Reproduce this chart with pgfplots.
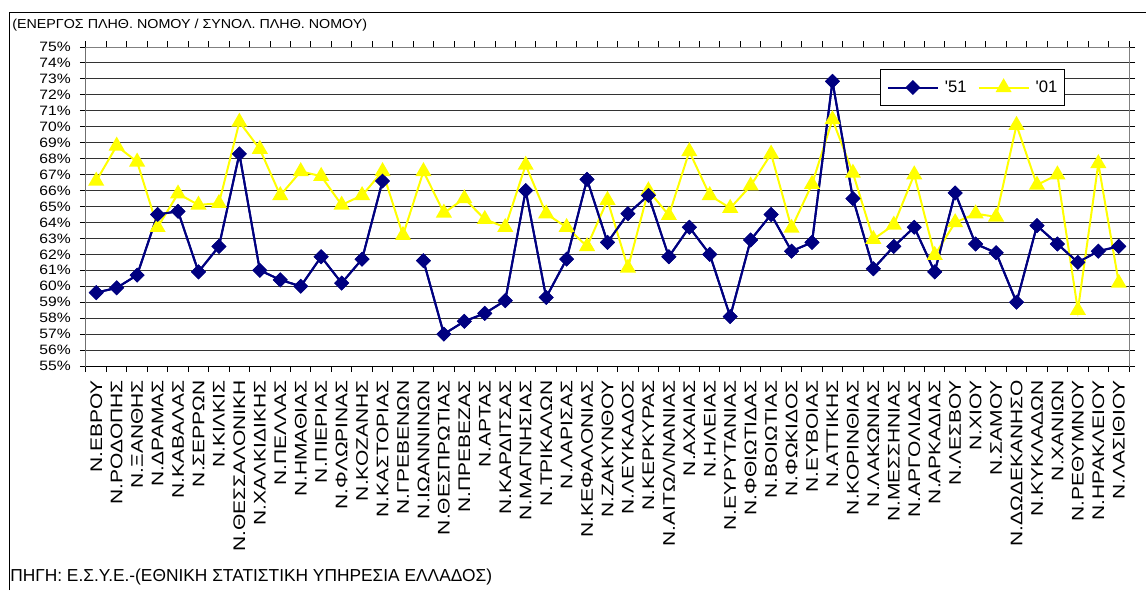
\documentclass[border=0pt]{standalone}
\usepackage{fontspec}
\setmainfont{Liberation Sans}
\newfontfamily\xlab[FakeStretch=1.25]{Liberation Sans}
\newfontfamily\ylab[FakeStretch=1.15]{Liberation Sans}
\newfontfamily\ttl[FakeStretch=1.1]{Liberation Sans}
\usepackage{pgfplots}
\usepackage{pgfplotstable}
\pgfplotsset{compat=1.18}
\definecolor{navy51}{RGB}{0,0,128}
\definecolor{yel01}{RGB}{255,255,0}

\pgfplotstableread{
idx a b
0 59.6 66.6
1 59.9 68.8
2 60.7 67.8
3 64.5 63.7
4 64.7 65.8
5 60.9 65.1
6 62.5 65.2
7 68.3 70.3
8 61.0 68.6
9 60.4 65.7
10 60.0 67.2
11 61.85 66.9
12 60.2 65.1
13 61.7 65.7
14 66.6 67.2
15 nan 63.2
16 61.6 67.2
17 57.0 64.6
18 57.8 65.5
19 58.3 64.2
20 59.1 63.7
21 66.0 67.6
22 59.3 64.55
23 61.7 63.7
24 66.7 62.5
25 62.75 65.4
26 64.55 61.15
27 65.7 66.0
28 61.85 64.45
29 63.7 68.45
30 62.0 65.7
31 58.1 64.9
32 62.9 66.3
33 64.5 68.3
34 62.2 63.65
35 62.75 66.4
36 72.85 70.45
37 65.5 67.1
38 61.1 62.95
39 62.5 63.85
40 63.7 67.0
41 60.9 61.95
42 65.85 64.0
43 62.65 64.55
44 62.1 64.35
45 59.0 70.1
46 63.8 66.35
47 62.65 67.0
48 61.5 58.5
49 62.2 67.7
50 62.5 60.2
}\data

\begin{document}
\begin{tikzpicture}
\useasboundingbox (0,0) rectangle (859.5pt,-442.5pt);
\draw[line width=0.75pt] (6.75pt,-442.5pt) -- (6.75pt,-9pt) -- (859.5pt,-9pt);
\node[anchor=west, inner sep=0pt, font=\ttl\fontsize{9.75pt}{11pt}\selectfont] at (9pt,-18.75pt) {(ΕΝΕΡΓΟΣ ΠΛΗΘ. ΝΟΜΟΥ / ΣΥΝΟΛ. ΠΛΗΘ. ΝΟΜΟΥ)};
\node[anchor=west, inner sep=0pt, font=\fontsize{13pt}{15pt}\selectfont] at (7.5pt,-432.75pt) {ΠΗΓΗ: Ε.Σ.Υ.Ε.-(ΕΘΝΙΚΗ ΣΤΑΤΙΣΤΙΚΗ ΥΠΗΡΕΣΙΑ ΕΛΛΑΔΟΣ)};
\begin{axis}[
  at={(64.5pt,-274.5pt)}, anchor=south west,
  scale only axis, width=782.25pt, height=239.25pt,
  xmin=-0.5, xmax=50.5, ymin=55, ymax=75,
  axis line style={draw=gray, line width=0.75pt},
  xtick={0,...,50},
  xticklabels={Ν.ΕΒΡΟΥ, Ν.ΡΟΔΟΠΗΣ, Ν.ΞΑΝΘΗΣ, Ν.ΔΡΑΜΑΣ, Ν.ΚΑΒΑΛΑΣ, Ν.ΣΕΡΡΩΝ, Ν.ΚΙΛΚΙΣ, Ν.ΘΕΣΣΑΛΟΝΙΚΗ, Ν.ΧΑΛΚΙΔΙΚΗΣ, Ν.ΠΕΛΛΑΣ, Ν.ΗΜΑΘΙΑΣ, Ν.ΠΙΕΡΙΑΣ, Ν.ΦΛΩΡΙΝΑΣ, Ν.ΚΟΖΑΝΗΣ, Ν.ΚΑΣΤΟΡΙΑΣ, Ν.ΓΡΕΒΕΝΩΝ, Ν.ΙΩΑΝΝΙΝΩΝ, Ν.ΘΕΣΠΡΩΤΙΑΣ, Ν.ΠΡΕΒΕΖΑΣ, Ν.ΑΡΤΑΣ, Ν.ΚΑΡΔΙΤΣΑΣ, Ν.ΜΑΓΝΗΣΙΑΣ, Ν.ΤΡΙΚΑΛΩΝ, Ν.ΛΑΡΙΣΑΣ, Ν.ΚΕΦΑΛΟΝΙΑΣ, Ν.ΖΑΚΥΝΘΟΥ, Ν.ΛΕΥΚΑΔΟΣ, Ν.ΚΕΡΚΥΡΑΣ, Ν.ΑΙΤΩΛ/ΝΑΝΙΑΣ, Ν.ΑΧΑΙΑΣ, Ν.ΗΛΕΙΑΣ, Ν.ΕΥΡΥΤΑΝΙΑΣ, Ν.ΦΘΙΩΤΙΔΑΣ, Ν.ΒΟΙΩΤΙΑΣ, Ν.ΦΩΚΙΔΟΣ, Ν.ΕΥΒΟΙΑΣ, Ν.ΑΤΤΙΚΗΣ, Ν.ΚΟΡΙΝΘΙΑΣ, Ν.ΛΑΚΩΝΙΑΣ, Ν.ΜΕΣΣΗΝΙΑΣ, Ν.ΑΡΓΟΛΙΔΑΣ, Ν.ΑΡΚΑΔΙΑΣ, Ν.ΛΕΣΒΟΥ, Ν.ΧΙΟΥ, Ν.ΣΑΜΟΥ, Ν.ΔΩΔΕΚΑΝΗΣΟ, Ν.ΚΥΚΛΑΔΩΝ, Ν.ΧΑΝΙΩΝ, Ν.ΡΕΘΥΜΝΟΥ, Ν.ΗΡΑΚΛΕΙΟΥ, Ν.ΛΑΣΙΘΙΟΥ},
  minor xtick={-0.5,0.5,...,50.5},
  major x tick style={draw=none},
  minor tick length=4.5pt, major tick length=4.5pt, tick align=outside,
  tick style={black, line width=0.75pt},
  ytick={55,...,75},
  yticklabels={55\%,56\%,57\%,58\%,59\%,60\%,61\%,62\%,63\%,64\%,65\%,66\%,67\%,68\%,69\%,70\%,71\%,72\%,73\%,74\%,75\%},
  ymajorgrids, grid style={black!80, line width=0.75pt},
  yticklabel style={font=\ylab\fontsize{10.2pt}{12pt}\selectfont, anchor=east, inner sep=0pt},
  yticklabel shift=6.75pt,
  xticklabel style={font=\xlab\fontsize{12.6pt}{13pt}\selectfont, rotate=90, anchor=east, inner sep=0pt},
  xticklabel shift=6pt,
  unbounded coords=jump,
  legend style={at={(0.761,0.931)}, anchor=north west, draw=black, line width=0.75pt,
    font=\fontsize{12.5pt}{14pt}\selectfont, legend columns=2, inner xsep=5pt, inner ysep=8pt,
    nodes={inner sep=0pt},
    /tikz/every odd column/.append style={column sep=4.5pt},
    /tikz/every even column/.append style={column sep=8.25pt}},
  legend image code/.code={\draw[mark repeat=2,mark phase=2,#1] plot coordinates {(0pt,0pt) (18.75pt,0pt) (37.5pt,0pt)};},
]
\addplot[navy51, line width=1.5pt, mark=square*, mark size=3.2pt, mark options={solid, rotate=45, fill=navy51}] table[x=idx, y=a]{\data};
\addlegendentry{\textquotesingle 51}
\addplot[yel01, line width=1.5pt, mark=triangle*, mark size=5.5pt, mark options={solid, fill=yel01}] table[x=idx, y=b]{\data};
\addlegendentry{\textquotesingle 01}
\addplot[navy51, line width=1.5pt, mark=square*, mark size=3.2pt, mark options={solid, rotate=45, fill=navy51}, forget plot] table[x=idx, y=a]{\data};
\draw[black, line width=0.75pt] (rel axis cs:0,1) -- (rel axis cs:0,0) -- (rel axis cs:1,0);
\end{axis}
\end{tikzpicture}
\end{document}
